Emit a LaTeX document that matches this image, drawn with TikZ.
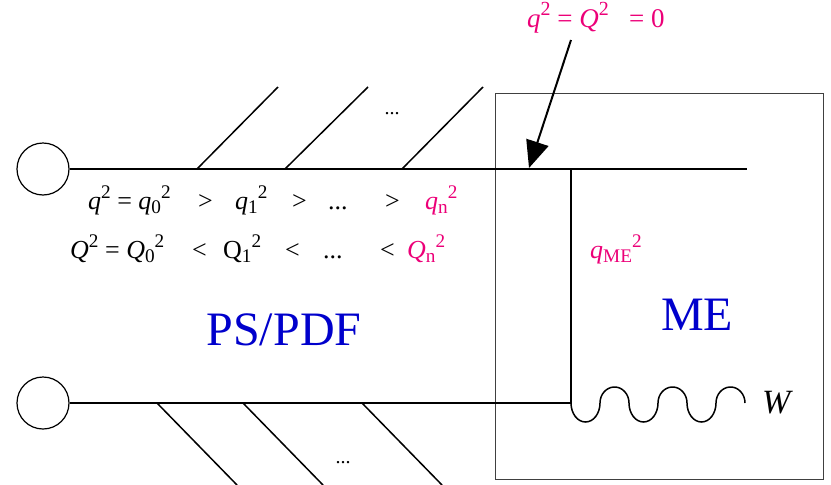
\documentclass[tikz,border=0pt]{standalone}
\usepackage{fontspec}
\setmainfont{Liberation Serif}
\usetikzlibrary{arrows.meta}
\definecolor{mepink}{RGB}{236,0,120}
\definecolor{psblue}{RGB}{0,0,204}
\newcommand\supr[1]{\raisebox{0.42em}{\scalebox{0.74}{#1}}}
\newcommand\subr[1]{\raisebox{-0.16em}{\scalebox{0.74}{#1}}}
\tikzset{
  legline/.style  = {line width=1.5pt, draw=black},
  endcirc/.style  = {circle, draw=black, line width=1.2pt, minimum size=52pt, inner sep=0pt},
  mebox/.style    = {rectangle, draw=black!75, line width=0.9pt, inner sep=0pt},
  qarrow/.style   = {-{Triangle[length=27pt,width=23pt]}, line width=2pt, draw=black},
  rowtxt/.style   = {anchor=base west, inner sep=0pt, font=\fontsize{26}{30}\selectfont},
  bigtxt/.style   = {anchor=base, inner sep=0pt, text=psblue, font=\fontsize{48}{52}\selectfont},
  dotstxt/.style  = {inner sep=0pt, font=\fontsize{20}{24}\selectfont},
}

\begin{document}
\begin{tikzpicture}[x=1pt, y=-1pt]
  \useasboundingbox (0,0) rectangle (831,485);

  % matrix element box
  \node[mebox, minimum width=328pt, minimum height=386pt] (box) at (659,286) {};

  % incoming legs
  \node[endcirc] (cup)  at (43,169) {};
  \node[endcirc] (clow) at (43,403) {};
  \coordinate (uend) at (747,169);
  \coordinate (jup)  at (571,169);
  \coordinate (jlow) at (571,403);
  \draw[legline] (cup) -- (uend);
  \draw[legline] (jup) -- (jlow);
  \draw[legline] (clow) -- (jlow);

  % emissions
  \foreach \a/\b [count=\i] in {197/278, 285/368, 402/483} {
    \coordinate (ub\i) at (\a,169);
    \coordinate (ut\i) at (\b,87);
    \draw[legline] (ub\i) -- (ut\i);
  }
  \foreach \a/\b [count=\i] in {157/237, 243/323, 362/442} {
    \coordinate (lb\i) at (\a,403);
    \coordinate (lt\i) at (\b,485);
    \draw[legline] (lb\i) -- (lt\i);
  }
  \node[dotstxt] (udots) at (392,114) {...};
  \node[dotstxt] (ldots) at (343,463) {...};

  % W boson
  \draw[legline] (jlow) \foreach \k in {1,2,3} {
      arc[start angle=180, end angle=0, x radius=14.5, y radius=19]
      arc[start angle=180, end angle=360, x radius=14.5, y radius=16] };
  \node[anchor=base west, inner sep=0pt, font=\fontsize{34}{40}\selectfont] (wlbl) at (762,413) {\textit{W}};

  % scale ordering
  \node[rowtxt] (qa) at (88,209)  {\textit{q}\supr{2} = \textit{q}\subr{0}\supr{2}};
  \node[rowtxt] (qb) at (198,209) {>};
  \node[rowtxt] (qc) at (235,209) {\textit{q}\subr{1}\supr{2}};
  \node[rowtxt] (qd) at (292,209) {>};
  \node[rowtxt] (qe) at (328,209) {...};
  \node[rowtxt] (qf) at (385,209) {>};
  \node[rowtxt, text=mepink] (qn) at (425,209) {\textit{q}\subr{n}\supr{2}};

  \node[rowtxt] (Qa) at (70,258)  {\textit{Q}\supr{2} = \textit{Q}\subr{0}\supr{2}};
  \node[rowtxt] (Qb) at (192,258) {<};
  \node[rowtxt] (Qc) at (223,258) {Q\subr{1}\supr{2}};
  \node[rowtxt] (Qd) at (285,258) {<};
  \node[rowtxt] (Qe) at (323,258) {...};
  \node[rowtxt] (Qf) at (380,258) {<};
  \node[rowtxt, text=mepink] (Qn) at (407,258) {\textit{Q}\subr{n}\supr{2}};

  \node[rowtxt, text=mepink] (qme) at (590,258) {\textit{q}\subr{ME}\supr{2}};

  % labels
  \node[bigtxt] (ps) at (284,345) {PS/PDF};
  \node[bigtxt] (me) at (697,330) {ME};

  % matching point
  \node[rowtxt, text=mepink, font=\fontsize{27}{30}\selectfont] (zero) at (527,27) {\textit{q}\supr{2} = \textit{Q}\supr{2}\ \ \ = 0};
  \coordinate (atail) at (571,40);
  \coordinate (atip)  at (529,168);
  \draw[qarrow] (atail) -- (atip);
\end{tikzpicture}
\end{document}
